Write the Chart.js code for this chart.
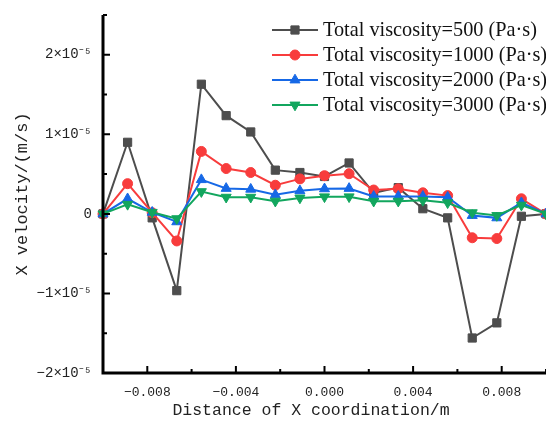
<!DOCTYPE html>
<html>
<head>
<meta charset="utf-8">
<script src="https://cdn.jsdelivr.net/npm/chart.js@4"></script>
<style>
  body { margin: 0; background: #fff; }
  #wrap { width: 546px; height: 427px; }
</style>
</head>
<body>
<div id="wrap"><canvas id="velocityChart" width="546" height="427"></canvas></div>
<script>
// x positions (m)
const xPos = [-0.01, -0.00889, -0.00778, -0.00667, -0.00556, -0.00444, -0.00333, -0.00222, -0.00111, 0,
  0.00111, 0.00222, 0.00333, 0.00444, 0.00556, 0.00667, 0.00778, 0.00889, 0.01];

// X velocity (m/s)
const visc500 = [0, 0.90e-5, -0.05e-5, -0.965e-5, 1.63e-5, 1.235e-5, 1.03e-5, 0.55e-5, 0.52e-5, 0.47e-5,
  0.64e-5, 0.265e-5, 0.33e-5, 0.065e-5, -0.05e-5, -1.56e-5, -1.37e-5, -0.03e-5, 0];
const visc1000 = [0, 0.38e-5, 0.015e-5, -0.34e-5, 0.785e-5, 0.57e-5, 0.52e-5, 0.36e-5, 0.44e-5, 0.48e-5,
  0.505e-5, 0.30e-5, 0.315e-5, 0.265e-5, 0.23e-5, -0.30e-5, -0.31e-5, 0.19e-5, 0];
const visc2000 = [0, 0.19e-5, 0.02e-5, -0.10e-5, 0.43e-5, 0.32e-5, 0.31e-5, 0.24e-5, 0.29e-5, 0.315e-5,
  0.32e-5, 0.22e-5, 0.22e-5, 0.22e-5, 0.21e-5, -0.02e-5, -0.05e-5, 0.14e-5, 0];
const visc3000 = [0, 0.12e-5, 0.02e-5, -0.06e-5, 0.28e-5, 0.21e-5, 0.21e-5, 0.16e-5, 0.20e-5, 0.215e-5,
  0.215e-5, 0.16e-5, 0.16e-5, 0.17e-5, 0.14e-5, 0.015e-5, -0.02e-5, 0.11e-5, 0];

const seriesLabels = [
  "Total viscosity=500 (Pa·s)",
  "Total viscosity=1000 (Pa·s)",
  "Total viscosity=2000 (Pa·s)",
  "Total viscosity=3000 (Pa·s)",
];

// axis ticks
const xTickValues = [-0.008, -0.004, 0, 0.004, 0.008];
const xTickLabels = ["−0.008", "−0.004", "0.000", "0.004", "0.008"];
const xMinorTicks = [-0.01, -0.006, -0.002, 0.002, 0.006, 0.01];
const yTickValues = [-2e-5, -1e-5, 0, 1e-5, 2e-5];
const yTickLabels = ["−2×10⁻⁵", "−1×10⁻⁵", "0", "1×10⁻⁵", "2×10⁻⁵"];
const yMinorTicks = [-1.5e-5, -0.5e-5, 0.5e-5, 1.5e-5, 2.5e-5];
const xTitle = "Distance of X coordination/m";

const pts = (ys) => xPos.map((x, i) => ({ x: x, y: ys[i] }));

function makeSet(idx, ys, color, style, radius, rotation, order) {
  return {
    label: seriesLabels[idx],
    data: pts(ys),
    borderColor: color,
    backgroundColor: color,
    borderWidth: 2,
    pointStyle: style,
    pointRadius: radius,
    pointRotation: rotation,
    pointBorderWidth: 1,
    tension: 0,
    clip: false,
    order: order,
  };
}

// 축 선, 안쪽 눈금, 범례
const axisPlugin = {
  id: "axisTicks",
  afterDraw(chart) {
    const c = chart.ctx;
    const a = chart.chartArea;
    const xs = chart.scales.x, ys = chart.scales.y;
    c.save();
    c.strokeStyle = "#000";
    c.lineWidth = 2;
    c.beginPath();
    xTickValues.forEach(v => { const p = xs.getPixelForValue(v); c.moveTo(p, a.bottom); c.lineTo(p, a.bottom - 7); });
    xMinorTicks.forEach(v => { const p = xs.getPixelForValue(v); c.moveTo(p, a.bottom); c.lineTo(p, a.bottom - 4); });
    yTickValues.forEach(v => { const p = ys.getPixelForValue(v); c.moveTo(a.left, p); c.lineTo(a.left + 7, p); });
    yMinorTicks.forEach(v => { const p = ys.getPixelForValue(v); c.moveTo(a.left, p); c.lineTo(a.left + 4, p); });
    c.stroke();
    c.lineWidth = 3;
    c.beginPath();
    c.moveTo(a.left, a.top);
    c.lineTo(a.left, a.bottom);
    c.lineTo(a.right, a.bottom);
    c.stroke();

    // x title
    c.fillStyle = "#222";
    c.font = "16.5px 'Liberation Mono'";
    c.textAlign = "center";
    c.textBaseline = "middle";
    c.fillText(xTitle, 311, 411);

    // legend
    const lx = 272, ly = 30, gap = 25;
    chart.data.datasets.forEach((ds, i) => {
      const y = ly + i * gap;
      c.strokeStyle = ds.borderColor;
      c.fillStyle = ds.backgroundColor;
      c.lineWidth = 2;
      c.beginPath();
      c.moveTo(lx, y);
      c.lineTo(lx + 46, y);
      c.stroke();
      c.lineWidth = 1;
      Chart.helpers.drawPoint(c, { pointStyle: ds.pointStyle, radius: ds.pointRadius, rotation: ds.pointRotation, borderWidth: 1 }, lx + 23, y);
      c.fillStyle = "#111";
      c.font = "20.3px 'Liberation Serif'";
      c.textBaseline = "middle";
      c.textAlign = "left";
      c.fillText(ds.label, lx + 51, y + 1);
    });
    c.restore();
  },
};

const ctx = document.getElementById("velocityChart").getContext("2d");
const velocityChart = new Chart(ctx, {
  type: "line",
  data: {
    datasets: [
      makeSet(0, visc500, "#4d4d4d", "rect", 5.8, 0, 4),
      makeSet(1, visc1000, "#f83c3c", "circle", 5, 0, 3),
      makeSet(2, visc2000, "#1668e6", "triangle", 5.8, 0, 2),
      makeSet(3, visc3000, "#12a65e", "triangle", 5.8, 180, 1),
    ],
  },
  options: {
    responsive: false,
    animation: false,
    layout: { autoPadding: false, padding: { top: 15, right: 0, left: 0, bottom: 0 } },
    plugins: { legend: { display: false }, tooltip: { enabled: false } },
    scales: {
      x: {
        type: "linear",
        min: -0.01,
        max: 0.01,
        grid: { display: false, drawTicks: false },
        border: { display: false },
        afterBuildTicks: (s) => { s.ticks = xTickValues.map(v => ({ value: v })); },
        afterFit: (s) => { s.height = 54; s.paddingLeft = 0; s.paddingRight = 0; },
        ticks: {
          padding: 12,
          color: "#222",
          font: { family: "'Liberation Mono'", size: 13 },
          callback: (v, i) => xTickLabels[i],
        },
      },
      y: {
        min: -2e-5,
        max: 2.5e-5,
        grid: { display: false, drawTicks: false },
        border: { display: false },
        afterBuildTicks: (s) => { s.ticks = yTickValues.map(v => ({ value: v })); },
        afterFit: (s) => { s.width = 103; s.paddingTop = 0; s.paddingBottom = 0; },
        ticks: {
          padding: 11,
          color: "#222",
          font: { family: "'Liberation Mono'", size: 14 },
          callback: (v, i) => yTickLabels[i],
        },
        title: {
          display: true,
          text: "X velocity/(m/s)",
          color: "#222",
          font: { family: "'Liberation Mono'", size: 17 },
          padding: { top: 12, bottom: 0 },
        },
      },
    },
  },
  plugins: [axisPlugin],
});
</script>
</body>
</html>
